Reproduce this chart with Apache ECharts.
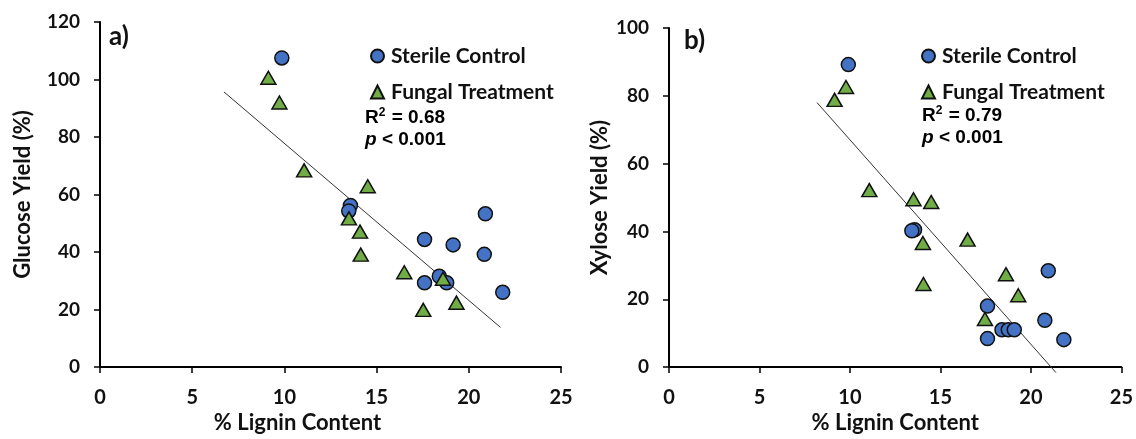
<!DOCTYPE html>
<html>
<head>
<meta charset="utf-8">
<script src="https://cdn.jsdelivr.net/npm/echarts@6/dist/echarts.min.js"></script>
<style>
  html, body { margin: 0; padding: 0; background: #fff; }
  #main { width: 1136px; height: 439px; }
</style>
</head>
<body>
<div id="main"></div>
<script>
// % lignin content vs sugar yield

// a) glucose
var glucoseSterile = [
  [9.86, 107.5], [13.58, 56.2], [13.49, 54.3], [17.6, 44.4], [19.15, 42.5],
  [20.9, 53.3], [20.84, 39.2], [17.6, 29.3], [18.4, 31.6], [18.8, 29.3], [21.84, 26.0]
];
var glucoseFungal = [
  [9.13, 100.6], [9.73, 92.0], [11.07, 68.4], [14.52, 62.9], [13.5, 51.7],
  [14.1, 47.1], [14.14, 39.1], [16.5, 33.0], [18.6, 30.7], [17.53, 19.9], [19.33, 22.4]
];
var glucoseFit = [[6.72, 95.7], [21.72, 13.8]];

// b) xylose
var xyloseSterile = [
  [9.91, 89.2], [13.57, 40.5], [13.42, 40.2], [17.6, 18.0], [17.6, 8.4],
  [18.4, 11.0], [18.75, 11.0], [19.08, 11.0], [20.96, 28.4], [20.77, 13.8], [21.82, 8.1]
];
var xyloseFungal = [
  [9.15, 78.8], [9.78, 82.6], [11.07, 52.2], [13.51, 49.5], [14.49, 48.7],
  [14.03, 36.6], [14.06, 24.5], [16.5, 37.6], [18.62, 27.4], [19.3, 21.2], [17.46, 14.2]
];
var xyloseFit = [[8.18, 78.0], [21.38, -1.6]];

var FONT = 'Lato';
var STAT_FONT = 'Liberation Sans';
var blue = '#4472C4';
var green = '#70AD47';
var ink = '#111';

function xAxisFor(idx, namePad) {
  return {
    type: 'value', gridIndex: idx, min: 0, max: 25, interval: 5,
    name: '% Lignin Content', nameLocation: 'middle', nameGap: 44,
    nameTextStyle: { fontFamily: FONT, fontWeight: 'bold', fontSize: 22, color: ink, padding: namePad, verticalAlign: 'top' },
    axisLine: { lineStyle: { color: '#000', width: 2 } },
    axisTick: { show: true, length: 6, lineStyle: { color: '#000', width: 1.5 } },
    axisLabel: { margin: 20, fontFamily: FONT, fontWeight: 'bold', fontSize: 20, color: ink },
    splitLine: { show: false }
  };
}
function yAxisFor(idx, name, max, gap) {
  return {
    type: 'value', gridIndex: idx, min: 0, max: max, interval: 20,
    name: name, nameLocation: 'middle', nameGap: gap,
    nameTextStyle: { fontFamily: FONT, fontWeight: 'bold', fontSize: 22, color: ink },
    axisLine: { show: true, lineStyle: { color: '#000', width: 2 } },
    axisTick: { show: true, length: 6, lineStyle: { color: '#000', width: 1.5 } },
    axisLabel: { margin: 20, fontFamily: FONT, fontWeight: 'bold', fontSize: 19, color: ink },
    splitLine: { show: false }
  };
}
function dots(name, data, idx, shape, color) {
  return {
    name: name, type: 'scatter', xAxisIndex: idx, yAxisIndex: idx,
    data: data, symbol: shape, symbolSize: shape === 'circle' ? 14 : [15, 13],
    itemStyle: { color: color, borderColor: '#111', borderWidth: 1.5, opacity: 1 },
    z: 3
  };
}
function fit(data, idx) {
  return {
    type: 'line', xAxisIndex: idx, yAxisIndex: idx, data: data,
    showSymbol: false, symbol: 'none', silent: true, clip: false,
    lineStyle: { color: '#333', width: 1 }, z: 2
  };
}
function legendAt(left) {
  return {
    left: left, top: 40, orient: 'vertical', itemGap: 14, itemWidth: 13, itemHeight: 13,
    data: [{ name: 'Sterile Control', icon: 'circle' }, { name: 'Fungal Treatment', icon: 'triangle' }],
    textStyle: { fontFamily: FONT, fontWeight: 'bold', fontSize: 21, lineHeight: 22, color: ink, padding: [0, 0, 0, 2] },
    selectedMode: false
  };
}
function statText(left, top, r2) {
  return {
    type: 'text', left: left, top: top,
    style: {
      text: '{b|R}{s|2}{b| = ' + r2 + '}\n{i|p}{b| < 0.001}',
      rich: {
        b: { fontFamily: STAT_FONT, fontWeight: 'bold', fontSize: 19, color: ink, lineHeight: 22 },
        s: { fontFamily: STAT_FONT, fontWeight: 'bold', fontSize: 12, color: ink, verticalAlign: 'top', padding: [0, 1, 7, 0], lineHeight: 22 },
        i: { fontFamily: STAT_FONT, fontWeight: 'bold', fontStyle: 'italic', fontSize: 19, color: ink, lineHeight: 22 }
      }
    }
  };
}

var chart = echarts.init(document.getElementById('main'));
chart.setOption({
  animation: false,
  grid: [
    { left: 100, top: 22, width: 461, height: 348 },
    { left: 669, top: 28, width: 454, height: 341 }
  ],
  xAxis: [xAxisFor(0, [0, 66, 0, 0]), xAxisFor(1, 0)],
  yAxis: [yAxisFor(0, 'Glucose Yield (%)', 120, 66), yAxisFor(1, 'Xylose Yield (%)', 100, 58)],
  legend: [legendAt(365), legendAt(916)],
  graphic: [
    { type: 'text', left: 109, top: 24, style: { text: 'a)', fontFamily: FONT, fontWeight: 'bold', fontSize: 26, fill: ink } },
    { type: 'text', left: 684, top: 28, style: { text: 'b)', fontFamily: FONT, fontWeight: 'bold', fontSize: 26, fill: ink } },
    statText(365, 107, '0.68'),
    statText(922, 105, '0.79')
  ],
  series: [
    fit(glucoseFit, 0),
    dots('Sterile Control', glucoseSterile, 0, 'circle', blue),
    dots('Fungal Treatment', glucoseFungal, 0, 'triangle', green),
    fit(xyloseFit, 1),
    dots('Sterile Control', xyloseSterile, 1, 'circle', blue),
    dots('Fungal Treatment', xyloseFungal, 1, 'triangle', green)
  ]
});
</script>
</body>
</html>
